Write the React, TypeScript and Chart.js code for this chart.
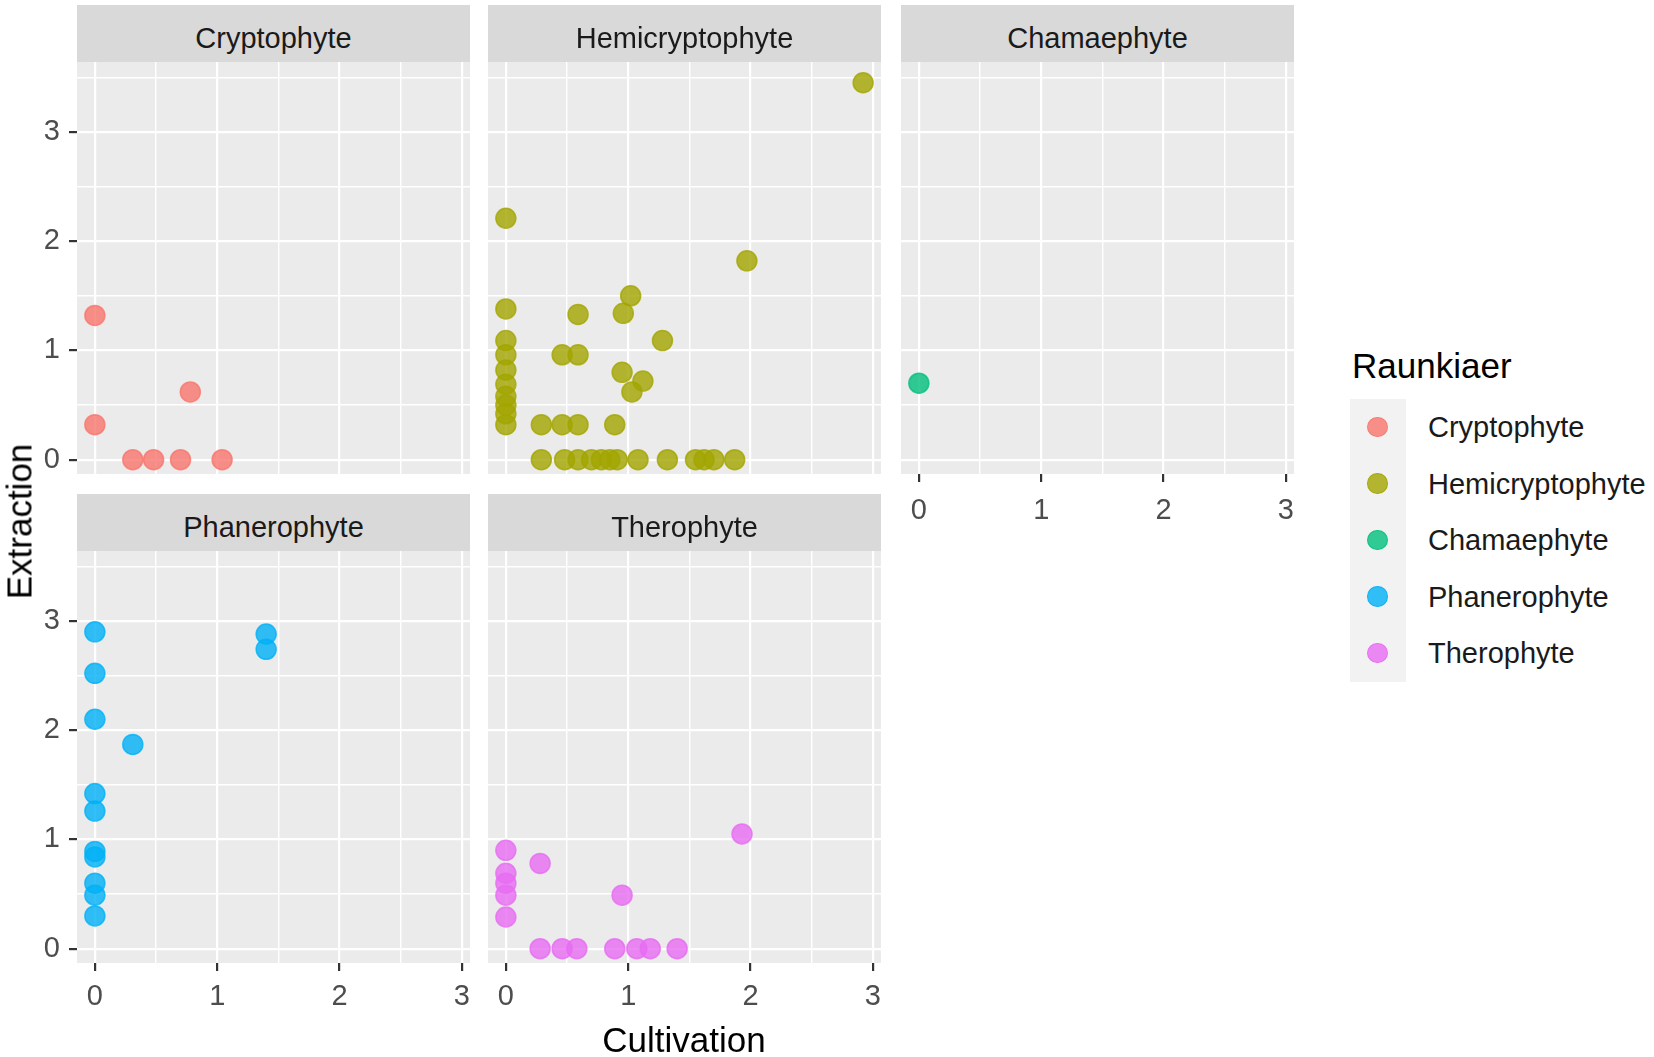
import { useEffect, useRef } from 'react';
import Chart from 'chart.js/auto';

const GROUPS = ['Cryptophyte', 'Hemicryptophyte', 'Chamaephyte', 'Phanerophyte', 'Therophyte'];
const COLORS = ['#F8766D', '#A3A500', '#00BF7D', '#00B0F6', '#E76BF3'];

const cryptoCultivation = [0, 0, 0.78, 0.31, 0.48, 0.7, 1.04];
const cryptoExtraction = [1.32, 0.32, 0.62, 0, 0, 0, 0];

const hemiCultivation = [
  2.92, 1.97, 1.02, 0.59, 0.96, 1.28, 0.46, 0.59, 0.95, 1.12, 1.03,
  0, 0, 0, 0, 0, 0, 0, 0, 0, 0,
  0.29, 0.46, 0.59, 0.89,
  0.29, 0.48, 0.59, 0.7, 0.78, 0.85, 0.91, 1.08, 1.32, 1.55, 1.62, 1.7, 1.87,
];
const hemiExtraction = [
  3.45, 1.82, 1.5, 1.33, 1.34, 1.09, 0.96, 0.96, 0.8, 0.72, 0.62,
  2.21, 1.38, 1.09, 0.96, 0.82, 0.69, 0.58, 0.5, 0.42, 0.32,
  0.32, 0.32, 0.32, 0.32,
  0, 0, 0, 0, 0, 0, 0, 0, 0, 0, 0, 0, 0,
];

const chamaeCultivation = [0];
const chamaeExtraction = [0.7];

const phaneroCultivation = [0, 1.4, 1.4, 0, 0, 0.31, 0, 0, 0, 0, 0, 0, 0];
const phaneroExtraction = [2.9, 2.88, 2.74, 2.52, 2.1, 1.87, 1.42, 1.26, 0.89, 0.84, 0.6, 0.49, 0.3];

const theroCultivation = [0, 0.28, 1.93, 0, 0, 0, 0, 0.95, 0.28, 0.46, 0.58, 0.89, 1.07, 1.18, 1.4];
const theroExtraction = [0.9, 0.78, 1.05, 0.69, 0.6, 0.49, 0.29, 0.49, 0, 0, 0, 0, 0, 0, 0];

const X_TICKS = [0, 0.5, 1, 1.5, 2, 2.5, 3];
const Y_TICKS = [0, 0.5, 1, 1.5, 2, 2.5, 3, 3.5];
const X_RANGE = [-0.146, 3.066];
const Y_RANGE = [-0.131, 3.64];

const FONT = "'Liberation Sans', Arial, sans-serif";

// layout (px)
const COL_LEFT = [77, 488, 901];
const ROW_TOP = [5, 494];
const PLOT_W = 393;
const STRIP_H = 57;
const PLOT_H = 412;
const Y_AXIS_W = 77;
const X_AXIS_H = 62;
const PAD_R = 20;

const panels = [
  { g: 0, xs: cryptoCultivation, ys: cryptoExtraction, col: 0, row: 0, showX: false, showY: true },
  { g: 1, xs: hemiCultivation, ys: hemiExtraction, col: 1, row: 0, showX: false, showY: false },
  { g: 2, xs: chamaeCultivation, ys: chamaeExtraction, col: 2, row: 0, showX: true, showY: false },
  { g: 3, xs: phaneroCultivation, ys: phaneroExtraction, col: 0, row: 1, showX: true, showY: true },
  { g: 4, xs: theroCultivation, ys: theroExtraction, col: 1, row: 1, showX: true, showY: false },
];

function alpha(hex: string, a: number) {
  const n = parseInt(hex.slice(1), 16);
  return `rgba(${(n >> 16) & 255},${(n >> 8) & 255},${n & 255},${a})`;
}

const panelBg = {
  id: 'panelBg',
  beforeDraw(chart: any) {
    const { ctx, chartArea: a } = chart;
    ctx.save();
    ctx.fillStyle = '#EBEBEB';
    ctx.fillRect(a.left, a.top, a.right - a.left, a.bottom - a.top);
    ctx.restore();
  },
};

const isMajor = (v: number) => Number.isInteger(v);

function axisOpts(ticks: number[], range: number[], show: boolean, horizontal: boolean, pad: number) {
  return {
    type: 'linear',
    min: range[0],
    max: range[1],
    afterBuildTicks: (ax: any) => {
      ax.ticks = ticks.map((v) => ({ value: v }));
    },
    afterFit: (ax: any) => {
      if (horizontal) {
        ax.height = show ? X_AXIS_H : 0;
        ax.paddingLeft = 0;
        ax.paddingRight = 0;
      } else {
        ax.width = show ? Y_AXIS_W : 0;
        ax.paddingTop = 0;
        ax.paddingBottom = 0;
      }
    },
    ticks: {
      display: show,
      autoSkip: false,
      maxRotation: 0,
      padding: pad,
      color: '#4D4D4D',
      font: { family: FONT, size: 29 },
      callback: (v: number) => (isMajor(v) ? String(v) : ''),
    },
    grid: {
      color: '#FFFFFF',
      lineWidth: (c: any) => (isMajor(c.tick.value) ? 2.2 : 1.4),
      drawTicks: show,
      tickLength: 8,
      tickWidth: 2.2,
      tickColor: (c: any) => (isMajor(c.tick.value) ? '#333333' : 'rgba(0,0,0,0)'),
    },
    border: { display: false },
  };
}

function Panel({ p }: { p: (typeof panels)[number] }) {
  const ref = useRef<HTMLCanvasElement | null>(null);
  const yW = p.showY ? Y_AXIS_W : 0;
  const xH = p.showX ? X_AXIS_H : 0;
  const w = yW + PLOT_W + PAD_R;
  const h = PLOT_H + xH;
  const left = COL_LEFT[p.col] - yW;
  const top = ROW_TOP[p.row] + STRIP_H;

  useEffect(() => {
    if (!ref.current) return;
    const color = COLORS[p.g];
    const chart = new Chart(ref.current, {
      type: 'scatter',
      data: {
        datasets: [
          {
            label: GROUPS[p.g],
            data: p.xs.map((x, i) => ({ x, y: p.ys[i] })),
            backgroundColor: alpha(color, 0.8),
            borderColor: alpha(color, 0.8),
            borderWidth: 1.5,
            pointRadius: 10,
            pointHoverRadius: 10,
          },
        ],
      },
      options: {
        animation: false,
        responsive: false,
        events: [],
        layout: { autoPadding: false, padding: { left: 0, top: 0, bottom: 0, right: PAD_R } },
        plugins: { legend: { display: false }, tooltip: { enabled: false } },
        scales: {
          x: axisOpts(X_TICKS, X_RANGE, p.showX, true, p.row === 0 ? 12 : 9),
          y: axisOpts(Y_TICKS, Y_RANGE, p.showY, false, 9),
        } as any,
      },
      plugins: [panelBg],
    });
    return () => chart.destroy();
  }, []);

  return (
    <>
      <div
        style={{
          position: 'absolute',
          left: COL_LEFT[p.col],
          top: ROW_TOP[p.row],
          width: PLOT_W,
          height: STRIP_H,
          background: '#D9D9D9',
        }}
      >
        <div
          style={{
            position: 'absolute',
            left: 0,
            width: '100%',
            top: 43.5 - 0.8465 * 29,
            fontSize: 29,
            lineHeight: '29px',
            textAlign: 'center',
            color: '#1A1A1A',
            whiteSpace: 'nowrap',
          }}
        >
          {GROUPS[p.g]}
        </div>
      </div>
      <canvas
        ref={ref}
        width={w}
        height={h}
        style={{ position: 'absolute', left, top, width: w, height: h }}
      />
    </>
  );
}

export default function App() {
  return (
    <div
      style={{
        position: 'absolute',
        left: 0,
        top: 0,
        width: 1654,
        height: 1057,
        background: '#FFFFFF',
        overflow: 'hidden',
        fontFamily: FONT,
      }}
    >
      {panels.map((p) => (
        <Panel key={p.g} p={p} />
      ))}

      {/* axis titles */}
      <div
        style={{
          position: 'absolute',
          left: 684 - 200,
          width: 400,
          top: 1052 - 0.8465 * 35,
          fontSize: 35,
          lineHeight: '35px',
          textAlign: 'center',
          color: '#000',
        }}
      >
        Cultivation
      </div>
      <div
        style={{
          position: 'absolute',
          left: 19 - 150,
          top: 521 - 17.5,
          width: 300,
          fontSize: 35,
          lineHeight: '35px',
          textAlign: 'center',
          color: '#000',
          transform: 'rotate(-90deg)',
        }}
      >
        Extraction
      </div>

      {/* legend */}
      <div
        style={{
          position: 'absolute',
          left: 1352,
          top: 378 - 0.8465 * 35,
          fontSize: 35,
          lineHeight: '35px',
          color: '#000',
          whiteSpace: 'nowrap',
        }}
      >
        Raunkiaer
      </div>
      <div
        style={{
          position: 'absolute',
          left: 1350,
          top: 399,
          width: 56,
          height: 56.5 * GROUPS.length,
          background: '#F2F2F2',
        }}
      />
      {GROUPS.map((g, i) => (
        <div key={g}>
          <div
            style={{
              position: 'absolute',
              left: 1378 - 10.75,
              top: 399 + 56.5 * i + 28.25 - 10.75,
              width: 18.5,
              height: 18.5,
              borderRadius: '50%',
              background: alpha(COLORS[i], 0.8),
              border: `1.5px solid ${alpha(COLORS[i], 0.8)}`,
            }}
          />
          <div
            style={{
              position: 'absolute',
              left: 1428,
              top: 399 + 56.5 * i,
              height: 56.5,
              lineHeight: '56.5px',
              fontSize: 29,
              color: '#1A1A1A',
              whiteSpace: 'nowrap',
            }}
          >
            {g}
          </div>
        </div>
      ))}
    </div>
  );
}
